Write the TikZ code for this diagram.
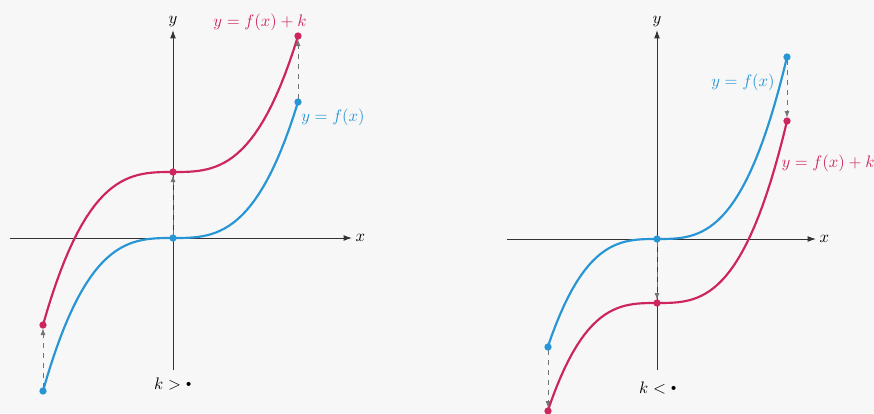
\documentclass[tikz,border=0pt]{standalone}
\usepackage{amsmath,amssymb}
\usepackage{xcolor}
\usepackage{tikz}
\usetikzlibrary{arrows.meta,positioning}
\definecolor{curvered}{RGB}{204,38,92}
\definecolor{curveblue}{RGB}{40,150,212}
\newcommand{\zerodot}{\raisebox{0.45ex}{$\scriptscriptstyle\bullet$}}
\tikzset{
  axis line/.style  = {draw=black!80, line width=0.6pt, -{Latex[length=5pt,width=3.5pt]}},
  red curve/.style  = {curvered, line width=1.3pt},
  blue curve/.style = {curveblue, line width=1.3pt},
  shift arr/.style  = {-{Latex[length=4pt,width=3pt]}, dashed, black!55,
                       line width=0.5pt, shorten >=2pt, shorten <=2pt},
  red dot/.style    = {fill=curvered},
  blue dot/.style   = {fill=curveblue},
  lbl/.style        = {font=\normalsize, inner sep=1pt},
}

\begin{document}
\begin{tikzpicture}[x=0.6pt, y=-0.6pt]
  \useasboundingbox[fill=black!3] (0,0) rectangle (874,413);

  %% --- left panel: k > 0 ------------------------------------------
  \coordinate (Lx0) at (10,238);
  \coordinate (Lx1) at (352,238);
  \coordinate (Ly0) at (173,370);
  \coordinate (Ly1) at (173,30);
  \draw[axis line] (Lx0) -- (Lx1);
  \draw[axis line] (Ly0) -- (Ly1);
  \node[lbl, right=1pt of Lx1] (Lxl) {$x$};
  \node[lbl, above=1pt of Ly1] (Lyl) {$y$};

  \draw[blue curve] plot[domain=-1.30:1.25, samples=60]
    ({173+100*\x},{238-69.6*\x*\x*\x});
  \draw[red curve] plot[domain=-1.30:1.25, samples=60]
    ({173+100*\x},{172-69.6*\x*\x*\x});

  \coordinate (Lb1) at (43,391);   \coordinate (Lr1) at (43,325);
  \coordinate (Lb2) at (173,238);  \coordinate (Lr2) at (173,172);
  \coordinate (Lb3) at (298,102);  \coordinate (Lr3) at (298,36);

  \foreach \i in {1,2,3} {
    \draw[shift arr] (Lb\i) -- (Lr\i);
    \fill[blue dot] (Lb\i) circle (2.2pt);
    \fill[red dot] (Lr\i) circle (2.2pt);
  }

  \node[lbl, curvered] (Lrl) at (260,22) {$y = f(x) + k$};
  \node[lbl, curveblue] (Lbl) at (333,117) {$y = f(x)$};
  \node[lbl] (Lk) at (173,384) {$k > {}$\zerodot};

  %% --- right panel: k < 0 -----------------------------------------
  \coordinate (Rx0) at (507,239);
  \coordinate (Rx1) at (816,239);
  \coordinate (Ry0) at (657,370);
  \coordinate (Ry1) at (657,30);
  \draw[axis line] (Rx0) -- (Rx1);
  \draw[axis line] (Ry0) -- (Ry1);
  \node[lbl, right=1pt of Rx1] (Rxl) {$x$};
  \node[lbl, above=1pt of Ry1] (Ryl) {$y$};

  \draw[blue curve] plot[domain=-1.09:1.30, samples=60]
    ({657+100*\x},{239-82.8*\x*\x*\x});
  \draw[red curve] plot[domain=-1.09:1.30, samples=60]
    ({657+100*\x},{303-82.8*\x*\x*\x});

  \coordinate (Rb1) at (548,347);  \coordinate (Rr1) at (548,411);
  \coordinate (Rb2) at (657,239);  \coordinate (Rr2) at (657,303);
  \coordinate (Rb3) at (787,57);   \coordinate (Rr3) at (787,121);

  \foreach \i in {1,2,3} {
    \draw[shift arr] (Rb\i) -- (Rr\i);
    \fill[blue dot] (Rb\i) circle (2.2pt);
    \fill[red dot] (Rr\i) circle (2.2pt);
  }

  \node[lbl, curveblue] (Rbl) at (743,82) {$y = f(x)$};
  \node[lbl, curvered] (Rrl) at (828,163) {$y = f(x) + k$};
  \node[lbl] (Rk) at (658,388) {$k < {}$\zerodot};
\end{tikzpicture}
\end{document}
